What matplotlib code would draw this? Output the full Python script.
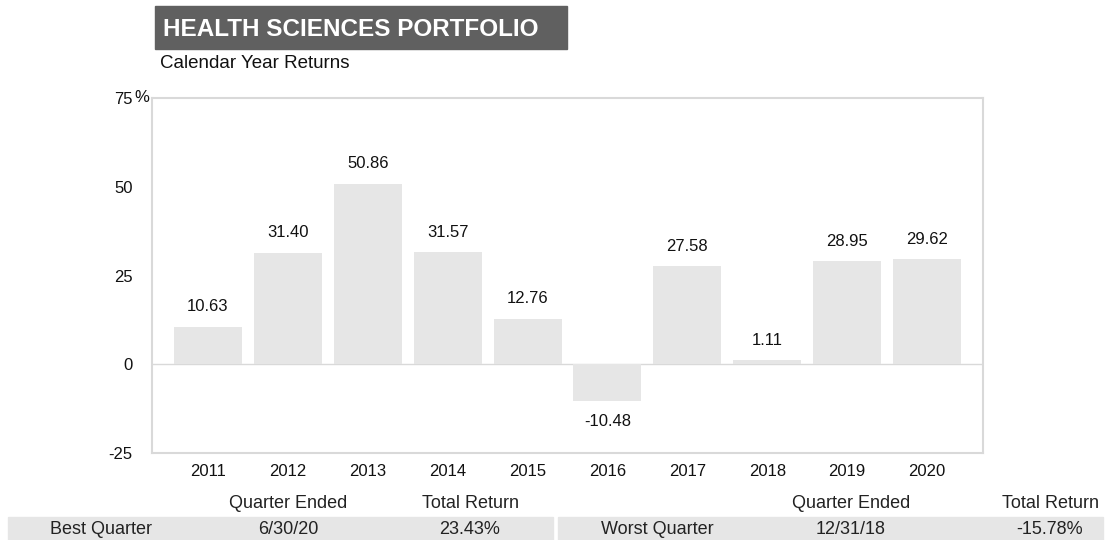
import matplotlib.pyplot as plt
from matplotlib.patches import Rectangle

plt.rcParams['font.family'] = ['Liberation Sans', 'DejaVu Sans']

years = ["2011", "2012", "2013", "2014", "2015", "2016", "2017", "2018", "2019", "2020"]
returns = [10.63, 31.40, 50.86, 31.57, 12.76, -10.48, 27.58, 1.11, 28.95, 29.62]
y_ticks = [-25, 0, 25, 50, 75]

title = "HEALTH SCIENCES PORTFOLIO"
subtitle = "Calendar Year Returns"
col_headers = ["Quarter Ended", "Total Return"]
best = ["Best Quarter", "6/30/20", "23.43%"]
worst = ["Worst Quarter", "12/31/18", "-15.78%"]

W, H = 1108, 540
fig = plt.figure(figsize=(W / 100, H / 100), dpi=100)

def fx(px):
    return px / W

def fy(py):
    return 1 - py / H

ax = fig.add_axes([fx(152), fy(453), fx(983) - fx(152), fy(98) - fy(453)])

x = list(range(len(years)))
ax.bar(x, returns, width=0.85, color="#e6e6e6", zorder=2)
ax.axhline(0, color="#d9d9d9", lw=1, zorder=1)

for xi, v in zip(x, returns):
    off = 20 if v >= 0 else -20
    ax.annotate(f"{v:.2f}", (xi, v), xytext=(0, off * 0.72), textcoords="offset points",
                ha="center", va="center", fontsize=12, color="#111111")

ax.set_xlim(-0.7, 9.7)
ax.set_ylim(-25, 75)
ax.set_xticks(x)
ax.set_xticklabels(years, fontsize=12, color="#111111")
ax.set_yticks(y_ticks)
ax.set_yticklabels([str(t) for t in y_ticks], fontsize=12, color="#111111")
ax.tick_params(axis="both", length=0)
ax.tick_params(axis="y", pad=14)
ax.tick_params(axis="x", pad=8)
for s in ax.spines.values():
    s.set_color("#d9d9d9")
    s.set_linewidth(1.5)

fig.text(fx(134), fy(98), "%", ha="left", va="center", fontsize=12, color="#111111")

# title box
fig.patches.append(Rectangle((fx(155), fy(49)), fx(567) - fx(155), fy(6) - fy(49),
                             transform=fig.transFigure, color="#606060", zorder=0))
fig.text(fx(163), fy(29), title, ha="left", va="center", fontsize=17.5,
         fontweight="bold", color="white")
fig.text(fx(160), fy(63), subtitle, ha="left", va="center", fontsize=13.5, color="#111111")

# best / worst quarter table
fig.patches.append(Rectangle((fx(8), fy(540)), fx(553) - fx(8), fy(517) - fy(540),
                             transform=fig.transFigure, color="#e6e6e6", zorder=0))
fig.patches.append(Rectangle((fx(558), fy(540)), fx(1103) - fx(558), fy(517) - fy(540),
                             transform=fig.transFigure, color="#e6e6e6", zorder=0))

left_cols = [101, 288, 470]
right_cols = [657, 851, 1050]
for cols, row in [(left_cols, best), (right_cols, worst)]:
    for c, h in zip(cols[1:], col_headers):
        fig.text(fx(c), fy(503), h, ha="center", va="center", fontsize=13, color="#222222")
    for c, t in zip(cols, row):
        fig.text(fx(c), fy(530), t, ha="center", va="center", fontsize=13, color="#222222")

fig.savefig("out.png", dpi=100)
